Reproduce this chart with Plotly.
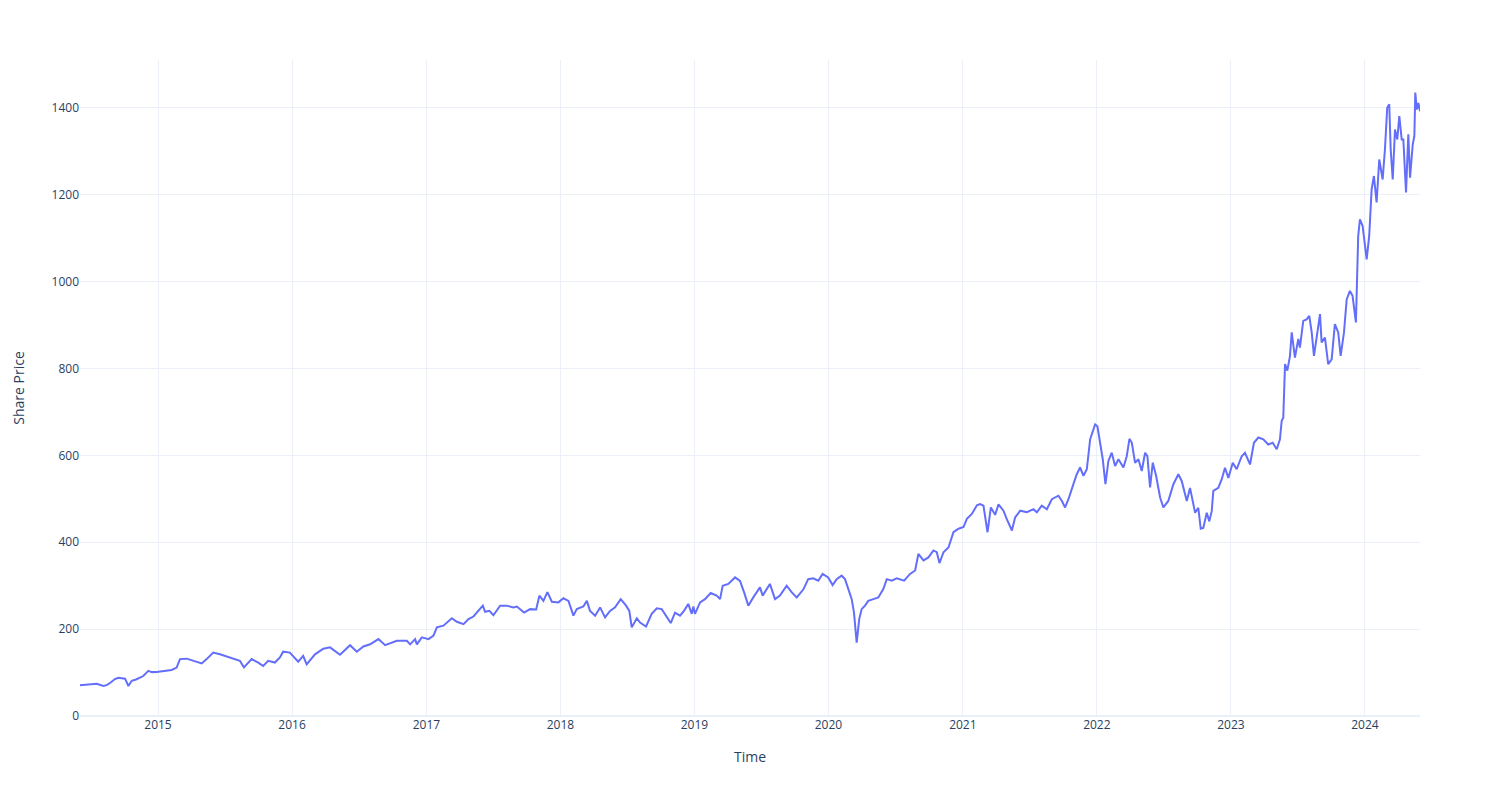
import pandas as pd
import plotly.graph_objects as go

# Time of each observation in decimal years
time_years = [
    2014.418, 2014.493, 2014.543, 2014.592, 2014.617, 2014.642, 2014.679, 2014.704, 2014.732, 2014.754,
    2014.779, 2014.804, 2014.836, 2014.890, 2014.928, 2014.955, 2014.990, 2015.028, 2015.065, 2015.102,
    2015.139, 2015.164, 2015.214, 2015.263, 2015.326, 2015.363, 2015.412, 2015.462, 2015.500, 2015.550,
    2015.611, 2015.641, 2015.699, 2015.748, 2015.785, 2015.822, 2015.872, 2015.910, 2015.934, 2015.984,
    2016.046, 2016.083, 2016.109, 2016.171, 2016.233, 2016.283, 2016.357, 2016.432, 2016.482, 2016.531,
    2016.581, 2016.643, 2016.693, 2016.780, 2016.855, 2016.879, 2016.916, 2016.929, 2016.966, 2017.016,
    2017.053, 2017.078, 2017.127, 2017.190, 2017.227, 2017.277, 2017.314, 2017.351, 2017.376, 2017.421,
    2017.438, 2017.470, 2017.500, 2017.550, 2017.600, 2017.649, 2017.675, 2017.729, 2017.774, 2017.819,
    2017.843, 2017.873, 2017.903, 2017.936, 2017.985, 2018.022, 2018.060, 2018.097, 2018.122, 2018.171,
    2018.197, 2018.221, 2018.259, 2018.296, 2018.333, 2018.370, 2018.408, 2018.450, 2018.490, 2018.514,
    2018.532, 2018.570, 2018.594, 2018.639, 2018.681, 2018.719, 2018.756, 2018.793, 2018.823, 2018.855,
    2018.892, 2018.922, 2018.954, 2018.980, 2018.992, 2019.004, 2019.042, 2019.079, 2019.121, 2019.166,
    2019.191, 2019.211, 2019.253, 2019.303, 2019.340, 2019.370, 2019.402, 2019.439, 2019.489, 2019.509,
    2019.563, 2019.601, 2019.638, 2019.688, 2019.725, 2019.763, 2019.812, 2019.849, 2019.886, 2019.924,
    2019.956, 2019.998, 2020.031, 2020.061, 2020.098, 2020.123, 2020.147, 2020.173, 2020.190, 2020.210,
    2020.229, 2020.247, 2020.272, 2020.296, 2020.334, 2020.371, 2020.408, 2020.434, 2020.471, 2020.508,
    2020.563, 2020.607, 2020.645, 2020.669, 2020.707, 2020.744, 2020.781, 2020.806, 2020.826, 2020.856,
    2020.893, 2020.930, 2020.968, 2021.005, 2021.030, 2021.067, 2021.105, 2021.129, 2021.154, 2021.167,
    2021.184, 2021.209, 2021.241, 2021.266, 2021.303, 2021.328, 2021.366, 2021.390, 2021.428, 2021.478,
    2021.527, 2021.552, 2021.589, 2021.627, 2021.664, 2021.713, 2021.739, 2021.763, 2021.788, 2021.825,
    2021.850, 2021.875, 2021.900, 2021.925, 2021.950, 2021.987, 2022.004, 2022.024, 2022.044, 2022.064,
    2022.086, 2022.111, 2022.136, 2022.161, 2022.198, 2022.223, 2022.243, 2022.261, 2022.285, 2022.310,
    2022.335, 2022.360, 2022.377, 2022.397, 2022.417, 2022.442, 2022.472, 2022.496, 2022.533, 2022.571,
    2022.608, 2022.633, 2022.658, 2022.671, 2022.695, 2022.715, 2022.733, 2022.757, 2022.775, 2022.794,
    2022.820, 2022.839, 2022.857, 2022.869, 2022.906, 2022.932, 2022.956, 2022.981, 2023.014, 2023.043,
    2023.081, 2023.105, 2023.143, 2023.172, 2023.205, 2023.242, 2023.279, 2023.312, 2023.342, 2023.366,
    2023.379, 2023.391, 2023.404, 2023.421, 2023.441, 2023.454, 2023.478, 2023.503, 2023.515, 2023.540,
    2023.565, 2023.585, 2023.603, 2023.620, 2023.644, 2023.665, 2023.677, 2023.702, 2023.726, 2023.752,
    2023.776, 2023.801, 2023.819, 2023.844, 2023.864, 2023.888, 2023.908, 2023.933, 2023.950, 2023.963,
    2023.983, 2024.013, 2024.032, 2024.050, 2024.067, 2024.087, 2024.107, 2024.132, 2024.149, 2024.166,
    2024.181, 2024.192, 2024.207, 2024.224, 2024.241, 2024.256, 2024.274, 2024.286, 2024.306, 2024.323,
    2024.336, 2024.356, 2024.368, 2024.375, 2024.386, 2024.398, 2024.410,
]

share_price = [
    71, 72, 74, 69, 71, 76, 85, 88, 87, 86,
    69, 81, 84, 92, 104, 101, 101.5, 103, 106, 106,
    111.5, 131, 132, 127, 121, 131, 146, 142, 138, 132,
    127, 112, 131, 123, 115, 127, 123, 135, 148, 146,
    125, 138.5, 119, 142, 155, 158, 141, 163, 148, 160,
    165, 177, 163, 173, 173, 165, 177, 165, 181, 177,
    185, 204, 208, 225, 217, 211.5, 223, 229, 238, 254,
    240, 242, 232, 254, 254, 250, 252, 238, 246, 245,
    277, 265, 285, 263, 261.5, 271, 265, 231, 246, 252,
    265, 242, 231, 250, 227, 242, 250, 269, 254, 242,
    204, 225, 215, 206, 235, 248, 246, 227, 214, 238,
    231, 242, 258, 235, 252, 235, 261.5, 269, 283, 277,
    269, 300, 304, 319, 311, 285, 254, 273, 296, 277,
    304, 269, 277, 300, 285, 273, 291, 315, 317, 311.5,
    327, 319, 301.5, 315, 323, 315, 292, 269, 238, 169,
    223, 246, 254, 265, 269, 273, 292, 315, 311.5, 317,
    311.5, 327, 335, 373, 358, 365, 381, 377, 352, 377,
    388, 423, 431, 435, 454, 465, 485, 488, 484, 461,
    423, 480, 463, 487, 472.5, 453, 427, 457, 472.5, 469,
    476, 469, 484, 476, 499, 507, 495, 480, 499, 533.6,
    556.5, 572, 553, 568, 637, 671, 667, 629, 591, 533.6,
    587, 606, 575.6, 591, 572, 598, 638, 629, 583, 591,
    564, 606, 598, 526, 583, 553, 503, 480, 495, 533.6,
    556.5, 541, 511, 495, 525, 498, 468, 479, 431, 433,
    468, 448, 471.5, 518, 525, 545, 571.5, 548, 583, 568,
    598, 606, 579, 629, 641, 637, 625, 629, 614, 637,
    679, 687, 810, 795, 829, 883, 825, 868, 848, 909.6,
    913, 921, 883, 829, 875, 925, 860, 871, 810, 821,
    902, 883, 829, 883, 959, 978.5, 967, 906, 1105, 1143,
    1128, 1051, 1105, 1212, 1243, 1182, 1281, 1235, 1304, 1400,
    1408, 1304, 1235, 1350, 1327, 1381, 1327, 1327, 1205, 1339,
    1239, 1316, 1335, 1435, 1396, 1411, 1392,
]

x_title = "Time"
y_title = "Share Price"


def year_fraction_to_date(t):
    y = int(t)
    start = pd.Timestamp(year=y, month=1, day=1)
    end = pd.Timestamp(year=y + 1, month=1, day=1)
    return start + (end - start) * (t - y)


dates = [year_fraction_to_date(t) for t in time_years]

fig = go.Figure(
    go.Scatter(
        x=dates,
        y=share_price,
        mode="lines",
        line=dict(color="#636efa", width=2),
        showlegend=False,
    )
)

fig.update_layout(
    template="plotly_white",
    width=1484,
    height=784,
    margin=dict(l=72, r=72, t=52, b=76),
    xaxis=dict(title=dict(text=x_title, standoff=20), automargin=False),
    yaxis=dict(title=dict(text=y_title, standoff=23), range=[0, 1510], automargin=False),
)

fig.write_html("out.html")
